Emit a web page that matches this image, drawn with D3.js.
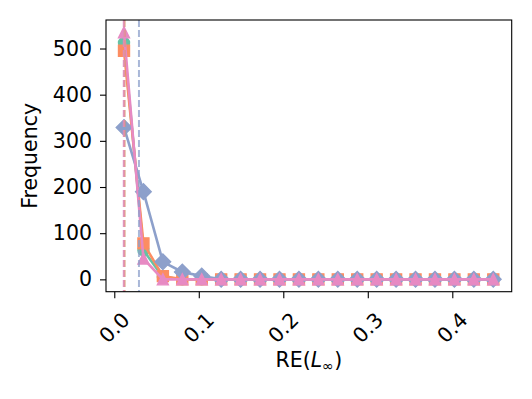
<!DOCTYPE html>
<html>
<head>
<meta charset="utf-8">
<script src="https://cdn.jsdelivr.net/npm/d3@7"></script>
<style>
  body { margin: 0; background: #fff; }
  svg text { font-family: "DejaVu Sans", sans-serif; fill: #000; }
</style>
</head>
<body>
<div id="chart"></div>
<script>
// bin centres of the histogram (RE(L_inf))
var binCenters = [0.0115, 0.0345, 0.0575, 0.0805, 0.1035, 0.1265, 0.1495, 0.1725, 0.1955, 0.2185,
                  0.2415, 0.2645, 0.2875, 0.3105, 0.3335, 0.3565, 0.3795, 0.4025, 0.4255, 0.4485];

var greenCounts  = [512, 63, 5, 0, 0, 0, 0, 0, 0, 0, 0, 0, 0, 0, 0, 0, 0, 0, 0, 0];
var orangeCounts = [495, 78, 7, 0, 0, 0, 0, 0, 0, 0, 0, 0, 0, 0, 0, 0, 0, 0, 0, 0];
var blueCounts   = [329, 190, 38, 16, 7, 0, 0, 0, 0, 0, 0, 0, 0, 0, 0, 0, 0, 0, 0, 0];
var pinkCounts   = [535, 45, 0, 0, 0, 0, 0, 0, 0, 0, 0, 0, 0, 0, 0, 0, 0, 0, 0, 0];

// mean values drawn as dashed lines
var means = [0.0118, 0.0121, 0.0292, 0.0112];

var xTicks = [0.0, 0.1, 0.2, 0.3, 0.4];
var yTicks = [0, 100, 200, 300, 400, 500];

var colors = ["#66c2a5", "#fc8d62", "#8da0cb", "#e78ac3"];
var symbols = ["circle", "square", "diamond", "triangle"];

var margin = { left: 106, right: 20.3, top: 20, bottom: 107.3 };
var width = 532 - margin.left - margin.right;
var height = 399 - margin.top - margin.bottom;

var svg = d3.select("#chart")
    .append("svg")
    .attr("width", 532)
    .attr("height", 399);

var g = svg.append("g")
    .attr("transform", "translate(" + margin.left + "," + margin.top + ")");

var x = d3.scaleLinear()
    .domain([-0.0098, 0.4703])
    .range([0, width]);

var y = d3.scaleLinear()
    .domain([-26.75, 561.75])
    .range([height, 0]);

// axes
var xAxis = g.append("g")
    .attr("transform", "translate(0," + height + ")")
    .call(d3.axisBottom(x).tickValues(xTicks).tickFormat(d3.format(".1f")).tickSize(6.5).tickSizeOuter(0));

xAxis.select(".domain").remove();
xAxis.selectAll("line").attr("stroke-width", 1.1);
xAxis.selectAll("text")
    .attr("font-size", "20.5px")
    .attr("text-anchor", "middle")
    .attr("y", null)
    .attr("dy", "0.35em")
    .attr("transform", "translate(-0.5,36) rotate(-45)");

var yAxis = g.append("g")
    .call(d3.axisLeft(y).tickValues(yTicks).tickSize(6).tickPadding(8).tickSizeOuter(0));

yAxis.select(".domain").remove();
yAxis.selectAll("line").attr("stroke-width", 1.1);
yAxis.selectAll("text").attr("font-size", "20.5px");

// series
var series = [greenCounts, orangeCounts, blueCounts, pinkCounts];

var line = d3.line()
    .x(function (d, i) { return x(binCenters[i]); })
    .y(function (d) { return y(d); });

var ms = 11;

series.forEach(function (s, k) {
    g.append("path")
        .datum(s)
        .attr("fill", "none")
        .attr("stroke", colors[k])
        .attr("stroke-width", 2.6)
        .attr("d", line);

    g.selectAll(".m" + k)
        .data(s)
        .enter()
        .append("path")
        .attr("class", "m" + k)
        .attr("fill", colors[k])
        .attr("stroke", colors[k])
        .attr("stroke-width", 1.4)
        .attr("stroke-linejoin", "miter")
        .attr("transform", function (d, i) {
            var rot = symbols[k] === "diamond" ? " rotate(45)" : "";
            return "translate(" + x(binCenters[i]) + "," + y(d) + ")" + rot;
        })
        .attr("d", function () {
            var h = ms / 2;
            if (symbols[k] === "triangle") {
                return "M0," + (-h) + "L" + h + "," + h + "L" + (-h) + "," + h + "Z";
            }
            if (symbols[k] === "circle") {
                return d3.symbol().type(d3.symbolCircle).size(Math.PI * h * h)();
            }
            return d3.symbol().type(d3.symbolSquare).size(ms * ms)();
        });
});

// mean lines
g.selectAll(".mean")
    .data(means)
    .enter()
    .append("line")
    .attr("class", "mean")
    .attr("x1", function (d) { return x(d); })
    .attr("x2", function (d) { return x(d); })
    .attr("y1", 0)
    .attr("y2", height)
    .attr("stroke", function (d, i) { return colors[i]; })
    .attr("stroke-width", 2)
    .attr("stroke-dasharray", "7,3")
    .attr("opacity", 0.75);

// frame
g.append("rect")
    .attr("width", width)
    .attr("height", height)
    .attr("fill", "none")
    .attr("stroke", "#000")
    .attr("stroke-width", 1.1);

// labels
var xl = svg.append("text")
    .attr("x", margin.left + width / 2)
    .attr("y", 367)
    .attr("font-size", "20.5px")
    .attr("text-anchor", "middle");
xl.append("tspan").text("RE(");
xl.append("tspan").attr("font-style", "italic").text("L");
xl.append("tspan").attr("font-size", "14.5px").attr("dy", "4").text("\u221e");
xl.append("tspan").attr("dy", "-4").text(")");

svg.append("text")
    .attr("transform", "translate(37," + (margin.top + height / 2) + ") rotate(-90)")
    .attr("font-size", "20.5px")
    .attr("text-anchor", "middle")
    .text("Frequency");
</script>
</body>
</html>
